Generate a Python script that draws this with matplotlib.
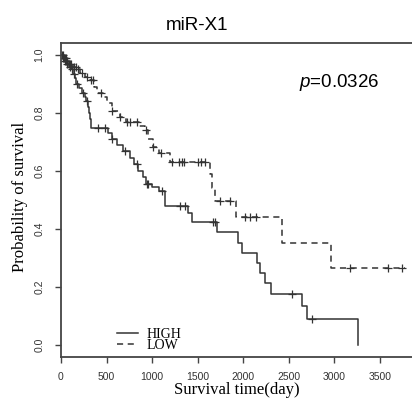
import numpy as np
import matplotlib
matplotlib.use("Agg")
import matplotlib.pyplot as plt
from matplotlib.lines import Line2D

plt.rcParams['font.family'] = ['Liberation Sans', 'DejaVu Sans']
plt.rcParams['mathtext.fontset'] = 'custom'
plt.rcParams['mathtext.it'] = 'Liberation Sans:italic'
plt.rcParams['mathtext.rm'] = 'Liberation Sans'

# Kaplan-Meier steps: (day, survival after the drop)
high_times = [20, 40, 60, 90, 110, 130, 150, 170, 200, 230, 260, 280, 295, 305, 315, 330,
              520, 560, 620, 680, 760, 800, 840, 900, 930, 1000, 1080, 1142, 1394, 1438,
              1712, 1943, 1987, 2150, 2184, 2239, 2305, 2645, 2700, 3260]
high_surv = [0.99, 0.98, 0.97, 0.96, 0.95, 0.935, 0.92, 0.90, 0.885, 0.87, 0.855, 0.84, 0.82,
             0.80, 0.78, 0.748, 0.73, 0.71, 0.69, 0.67, 0.645, 0.625, 0.60, 0.58, 0.555, 0.545,
             0.53, 0.48, 0.455, 0.424, 0.39, 0.352, 0.317, 0.283, 0.248, 0.214, 0.176, 0.134,
             0.09, 0.0]
high_censor = [10, 25, 35, 45, 55, 70, 85, 100, 120, 140, 176, 241, 285, 406, 483, 560, 703,
               834, 944, 960, 1109, 1306, 1361, 1668, 1690, 2535, 2755]

low_times = [30, 60, 90, 130, 170, 210, 260, 318, 360, 400, 461, 500, 560, 648, 714, 860, 922,
             960, 1010, 1076, 1196, 1640, 1660, 1690, 1921, 2426, 2964]
low_surv = [0.99, 0.98, 0.97, 0.96, 0.95, 0.938, 0.925, 0.914, 0.89, 0.87, 0.855, 0.835, 0.807,
            0.786, 0.769, 0.755, 0.741, 0.71, 0.683, 0.662, 0.631, 0.59, 0.541, 0.497, 0.441,
            0.352, 0.266]
low_censor = [20, 40, 50, 70, 95, 110, 140, 160, 190, 230, 290, 330, 350, 440, 560, 650, 720,
              760, 834, 930, 1010, 1100, 1218, 1295, 1328, 1350, 1504, 1537, 1580, 1745, 1855,
              2020, 2075, 2140, 3172, 3590, 3743]
low_end = 3776

x_ticks = [0, 500, 1000, 1500, 2000, 2500, 3000, 3500]
y_ticks = [0.0, 0.2, 0.4, 0.6, 0.8, 1.0]

col = '#333333'


def surv_at(t, times, surv):
    idx = np.searchsorted(times, t, side='right') - 1
    return 1.0 if idx < 0 else surv[idx]


def km_line(ax, times, surv, censor, end, ls):
    xs = [0] + list(times)
    ys = [1.0] + list(surv)
    if end is not None:
        xs.append(end)
        ys.append(ys[-1])
    ax.step(xs, ys, where='post', color=col, lw=1.1, ls=ls)
    cy = [surv_at(c, times, surv) for c in censor]
    ax.plot(censor, cy, ls='none', marker='+', ms=6, mew=0.9, color=col)


fig = plt.figure(figsize=(4.12, 4.0), dpi=100)
ax = fig.add_axes([0.148, 0.1075, 0.852, 0.785])

km_line(ax, high_times, high_surv, high_censor, None, '-')
km_line(ax, low_times, low_surv, low_censor, low_end, (0, (4, 3)))

ax.set_xlim(0, 3853)
ax.set_ylim(-0.041, 1.041)
ax.spines['right'].set_visible(False)
for s in ['left', 'top', 'bottom']:
    ax.spines[s].set_linewidth(1.3)
    ax.spines[s].set_color('#444444')

ax.set_xticks(x_ticks)
ax.set_xticklabels([str(v) for v in x_ticks])
ax.set_yticks(y_ticks)
ax.set_yticklabels(['%.1f' % v for v in y_ticks], rotation=90, va='center')
ax.tick_params(axis='both', length=4, width=1, color='#444444', labelsize=7.5,
               labelcolor='#333333')
ax.tick_params(axis='y', pad=8)
ax.tick_params(axis='x', pad=7)

ax.set_xlabel('Survival time(day)', family='Liberation Serif', fontsize=12, va='center')
ax.xaxis.set_label_coords(0.5, -0.105)
ax.set_ylabel('Probability of survival', family='Liberation Serif', fontsize=12, va='center')
ax.yaxis.set_label_coords(-0.117, 0.51)

ax.text(0.792, 0.86, r'$p$=0.0326', transform=ax.transAxes, ha='center', va='baseline',
        fontsize=13.5)
fig.text(0.478, 0.925, 'miR-X1', ha='center', va='baseline', fontsize=13.5)

handles = [Line2D([], [], color=col, lw=1.1, ls='-'),
           Line2D([], [], color=col, lw=1.1, ls=(0, (4, 3)))]
ax.legend(handles, ['HIGH', 'LOW'], loc='lower left', bbox_to_anchor=(0.16, 0.015),
          frameon=False, prop={'family': 'Liberation Serif', 'size': 10},
          handlelength=1.5, handletextpad=0.6, labelspacing=-0.1, borderpad=0,
          borderaxespad=0)

fig.savefig('out.png', dpi=100)
